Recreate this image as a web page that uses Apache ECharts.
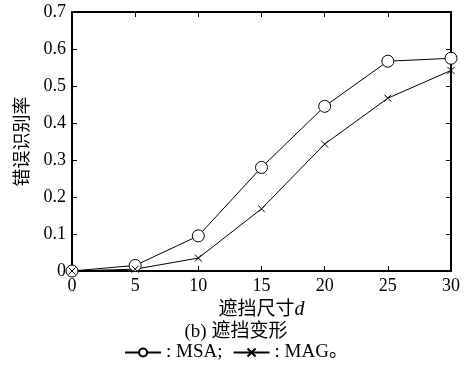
<!DOCTYPE html>
<html><head><meta charset="utf-8">
<script src="https://cdn.jsdelivr.net/npm/echarts@6/dist/echarts.min.js"></script>
<style>html,body{margin:0;padding:0;background:#fff}#c{width:472px;height:369px}</style>
</head><body><div id="c"></div>
<script>
var sizes = [0, 5, 10, 15, 20, 25, 30];
var msa = [0, 0.015, 0.095, 0.28, 0.445, 0.567, 0.575];
var mag = [0, 0.005, 0.035, 0.168, 0.343, 0.467, 0.542];
var xTicks = [0, 5, 10, 15, 20, 25, 30];
var yTicks = [0, 0.1, 0.2, 0.3, 0.4, 0.5, 0.6, 0.7];

var FONT = '"Liberation Serif", "Noto Sans CJK SC", serif';
var chart = echarts.init(document.getElementById('c'));
function pairs(ys){ return sizes.map(function(x,i){ return [x, ys[i]]; }); }
function ax(extra){
  return Object.assign({
    axisLine:{show:true, onZero:false, lineStyle:{color:'#000', width:2}},
    axisTick:{show:true, inside:true, length:5, lineStyle:{color:'#000', width:1}},
    splitLine:{show:false}
  }, extra);
}
chart.setOption({
  animation:false,
  grid:{left:72, right:21, top:12, bottom:98, containLabel:false},
  xAxis:[
    ax({type:'value', min:0, max:30, interval:5, position:'bottom',
      axisLabel:{color:'#000', fontFamily:FONT, fontSize:18, margin:6},
      name:'{a|遮挡尺寸}{b|d}', nameLocation:'middle', nameGap:27,
      nameTextStyle:{rich:{a:{fontFamily:FONT, fontSize:19, color:'#000'}, b:{fontFamily:FONT, fontSize:20, fontStyle:'italic', color:'#000'}}}
    }),
    ax({type:'value', min:0, max:30, interval:5, position:'top', axisLabel:{show:false}})
  ],
  yAxis:[
    ax({type:'value', min:0, max:0.7, interval:0.1, position:'left',
      axisLabel:{color:'#000', fontFamily:FONT, fontSize:18, margin:6, formatter:function(v){return String(Math.round(v*10)/10);}},
      name:'错误识别率', nameLocation:'middle', nameRotate:90, nameGap:40,
      nameTextStyle:{fontFamily:FONT, fontSize:18, color:'#000'}
    }),
    ax({type:'value', min:0, max:0.7, interval:0.1, position:'right', axisLabel:{show:false}})
  ],
  title:{text:'(b) 遮挡变形', left:'center', top:318, textStyle:{fontFamily:FONT, fontSize:19, fontWeight:'normal', color:'#000'}},
  legend:{bottom:2, left:'center', itemWidth:36, itemHeight:10, itemGap:10,
    textStyle:{fontFamily:FONT, fontSize:19, color:'#000'},
    data:[': MSA;', ': MAG。']},
  series:[
    {name:': MSA;', type:'line', xAxisIndex:0, yAxisIndex:0, data:pairs(msa), symbol:'circle', symbolSize:12,
      lineStyle:{color:'#000', width:1}, itemStyle:{color:'#fff', borderColor:'#000', borderWidth:1}, z:3},
    {name:': MAG。', type:'line', xAxisIndex:0, yAxisIndex:0, data:pairs(mag), symbol:'path://M0,0L10,10M10,0L0,10', symbolSize:7,
      lineStyle:{color:'#000', width:1}, itemStyle:{color:'#000', borderColor:'#000', borderWidth:1}, z:3}
  ]
});
</script></body></html>
